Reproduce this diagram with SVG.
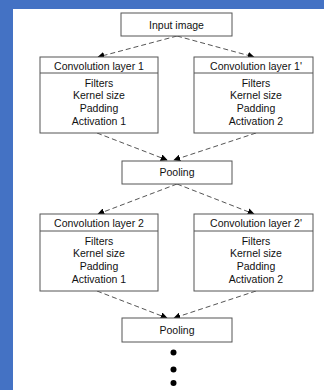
<svg xmlns="http://www.w3.org/2000/svg" width="324" height="390" viewBox="0 0 324 390">
<style>
.bx{fill:#fff;stroke:#555;stroke-width:1}
.t{font-family:"Liberation Sans",Arial,sans-serif;font-size:10.5px;fill:#111;text-anchor:middle}
.e{stroke:#555;stroke-width:1;stroke-dasharray:5,3;fill:none;marker-end:url(#ah)}
</style>
<defs>
<marker id="ah" viewBox="0 0 10 10" refX="9" refY="5" markerWidth="7" markerHeight="7" markerUnits="userSpaceOnUse" orient="auto">
<path d="M0,0 L10,5 L0,10 z" fill="#000"/>
</marker>
</defs>
<rect x="0" y="0" width="324" height="390" fill="#4472C4"/>
<rect x="13" y="9" width="311" height="381" fill="#fff"/>
<g id="connectors">
<line class="e" x1="177" y1="36" x2="98" y2="57"/>
<line class="e" x1="177" y1="36" x2="254" y2="57"/>
<line class="e" x1="97" y1="133" x2="167" y2="160"/>
<line class="e" x1="256" y1="133" x2="174" y2="160"/>
<line class="e" x1="177" y1="184" x2="98" y2="214"/>
<line class="e" x1="177" y1="184" x2="254" y2="214"/>
<line class="e" x1="97" y1="291" x2="167" y2="318"/>
<line class="e" x1="256" y1="291" x2="174" y2="318"/>
</g>
<g id="input">
<rect class="bx" x="121" y="13" width="111" height="23"/>
<text class="t" x="176.5" y="28.5">Input image</text>
</g>
<g id="conv1">
<rect class="bx" x="40" y="57" width="118" height="76"/>
<line x1="40" y1="73" x2="158" y2="73" stroke="#555"/>
<text class="t" x="99" y="69.5">Convolution layer 1</text>
<text class="t" x="99" y="86.5">Filters</text>
<text class="t" x="99" y="99.2">Kernel size</text>
<text class="t" x="99" y="111.9">Padding</text>
<text class="t" x="99" y="124.6">Activation 1</text>
</g>
<g id="conv1b">
<rect class="bx" x="194" y="57" width="119" height="76"/>
<line x1="194" y1="73" x2="313" y2="73" stroke="#555"/>
<text class="t" x="256" y="69.5">Convolution layer 1'</text>
<text class="t" x="256" y="86.5">Filters</text>
<text class="t" x="256" y="99.2">Kernel size</text>
<text class="t" x="256" y="111.9">Padding</text>
<text class="t" x="256" y="124.6">Activation 2</text>
</g>
<g id="pool1">
<rect class="bx" x="122" y="161" width="110" height="23"/>
<text class="t" x="177" y="176">Pooling</text>
</g>
<g id="conv2">
<rect class="bx" x="40" y="214" width="118" height="77"/>
<line x1="40" y1="231" x2="158" y2="231" stroke="#555"/>
<text class="t" x="99" y="227">Convolution layer 2</text>
<text class="t" x="99" y="244.5">Filters</text>
<text class="t" x="99" y="257.2">Kernel size</text>
<text class="t" x="99" y="269.9">Padding</text>
<text class="t" x="99" y="282.6">Activation 1</text>
</g>
<g id="conv2b">
<rect class="bx" x="194" y="214" width="119" height="77"/>
<line x1="194" y1="231" x2="313" y2="231" stroke="#555"/>
<text class="t" x="256" y="227">Convolution layer 2'</text>
<text class="t" x="256" y="244.5">Filters</text>
<text class="t" x="256" y="257.2">Kernel size</text>
<text class="t" x="256" y="269.9">Padding</text>
<text class="t" x="256" y="282.6">Activation 2</text>
</g>
<g id="pool2">
<rect class="bx" x="122" y="318" width="110" height="24"/>
<text class="t" x="177" y="334">Pooling</text>
</g>
<g id="dots" fill="#000">
<circle cx="173.5" cy="352.5" r="3"/>
<circle cx="173.5" cy="369.5" r="3"/>
<circle cx="173.5" cy="383" r="3"/>
</g>
</svg>
